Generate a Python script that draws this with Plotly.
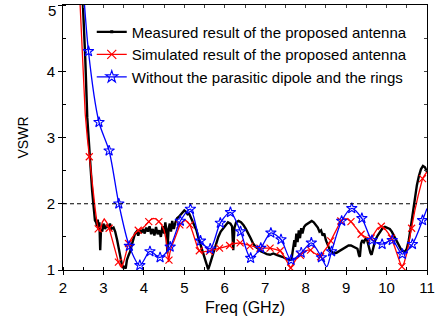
import plotly.graph_objects as go

# Measured result (black, dense)
meas_x = [2.45, 2.50, 2.55, 2.60, 2.67, 2.72, 2.75, 2.79, 2.82, 2.84, 2.86, 2.88, 2.90, 2.92, 2.94, 2.97,
          3.00, 3.04, 3.08, 3.12, 3.16, 3.20, 3.25, 3.29, 3.34, 3.38, 3.41, 3.45, 3.49, 3.52, 3.55, 3.58,
          3.62, 3.66, 3.70, 3.75, 3.78, 3.82, 3.86, 3.90, 3.94, 3.98, 4.02, 4.06, 4.10, 4.14, 4.18, 4.22,
          4.26, 4.30, 4.34, 4.38, 4.42, 4.46, 4.50, 4.53, 4.56, 4.58, 4.61, 4.64, 4.67, 4.70, 4.74, 4.78,
          4.82, 4.86, 4.90, 4.95, 5.00, 5.04, 5.08, 5.12, 5.16, 5.20, 5.25, 5.30, 5.35, 5.40, 5.45, 5.50,
          5.55, 5.59, 5.63, 5.68, 5.73, 5.78, 5.84, 5.90, 5.96, 6.02, 6.08, 6.14, 6.18, 6.21, 6.24, 6.28,
          6.34, 6.40, 6.46, 6.52, 6.58, 6.64, 6.70, 6.76, 6.83, 6.90, 6.97, 7.04, 7.12, 7.20, 7.28, 7.35,
          7.42, 7.49, 7.55, 7.60, 7.65, 7.69, 7.72, 7.74, 7.77, 7.80, 7.83, 7.86, 7.89, 7.92, 7.96, 8.00,
          8.05, 8.10, 8.15, 8.20, 8.25, 8.30, 8.34, 8.38, 8.42, 8.46, 8.50, 8.55, 8.60, 8.65, 8.70, 8.76,
          8.82, 8.88, 8.94, 9.00, 9.06, 9.12, 9.18, 9.24, 9.28, 9.32, 9.34, 9.37, 9.40, 9.44, 9.48, 9.52,
          9.56, 9.60, 9.63, 9.67, 9.72, 9.78, 9.84, 9.90, 9.96, 10.02, 10.08, 10.13, 10.18, 10.24, 10.30,
          10.36, 10.42, 10.46, 10.50, 10.55, 10.60, 10.65, 10.70, 10.75, 10.80, 10.85, 10.90, 10.95, 11.00]
meas_y = [5.6, 5.0, 4.2, 3.3, 2.56, 2.2, 2.0, 1.75, 1.72, 1.66, 1.76, 1.62, 1.72, 1.30, 1.62, 1.58,
          1.70, 1.62, 1.68, 1.64, 1.70, 1.62, 1.64, 1.58, 1.45, 1.32, 1.22, 1.10, 1.03, 1.06, 1.02, 1.15,
          1.22, 1.28, 1.38, 1.50, 1.55, 1.58, 1.52, 1.60, 1.56, 1.62, 1.55, 1.64, 1.58, 1.66, 1.54, 1.62,
          1.52, 1.65, 1.54, 1.60, 1.50, 1.66, 1.55, 1.72, 1.58, 1.25, 1.62, 1.70, 1.58, 1.74, 1.62, 1.72,
          1.78, 1.80, 1.83, 1.87, 1.90, 1.88, 1.84, 1.85, 1.80, 1.74, 1.68, 1.60, 1.48, 1.38, 1.28, 1.18,
          1.06, 1.01, 1.08, 1.18, 1.28, 1.38, 1.50, 1.58, 1.63, 1.68, 1.72, 1.70, 1.66, 1.30, 1.64, 1.72,
          1.74, 1.72, 1.68, 1.62, 1.56, 1.48, 1.40, 1.35, 1.32, 1.28, 1.26, 1.24, 1.23, 1.25, 1.23, 1.22,
          1.20, 1.18, 1.17, 1.15, 1.16, 1.30, 1.45, 1.35, 1.55, 1.42, 1.60, 1.48, 1.63, 1.55, 1.65, 1.68,
          1.70, 1.73, 1.74, 1.72, 1.68, 1.64, 1.58, 1.60, 1.52, 1.55, 1.45, 1.36, 1.30, 1.27, 1.25, 1.26,
          1.28, 1.30, 1.32, 1.35, 1.37, 1.37, 1.35, 1.33, 1.32, 1.22, 1.20, 1.40, 1.45, 1.42, 1.47, 1.45,
          1.35, 1.26, 1.23, 1.35, 1.45, 1.52, 1.58, 1.63, 1.65, 1.64, 1.62, 1.58, 1.52, 1.44, 1.37,
          1.31, 1.28, 1.28, 1.32, 1.45, 1.65, 1.88, 2.08, 2.28, 2.42, 2.52, 2.57, 2.55, 2.48]

# Simulated result (red)
sim_x = [2.40, 2.45, 2.50, 2.55, 2.60, 2.65, 2.70, 2.75, 2.80, 2.84, 2.87, 2.92, 2.97, 3.02, 3.08, 3.14,
         3.20, 3.26, 3.32, 3.37, 3.42, 3.45, 3.50, 3.56, 3.62, 3.70, 3.78, 3.86, 3.94, 4.02, 4.10, 4.17,
         4.23, 4.30, 4.37, 4.44, 4.50, 4.55, 4.58, 4.61, 4.64, 4.68, 4.75, 4.82, 4.89, 4.96, 5.03, 5.09,
         5.14, 5.20, 5.26, 5.32, 5.37, 5.45, 5.53, 5.62, 5.70, 5.80, 5.87, 6.00, 6.12, 6.25, 6.38, 6.50,
         6.62, 6.75, 6.87, 7.00, 7.12, 7.25, 7.37, 7.45, 7.52, 7.58, 7.63, 7.70, 7.78, 7.87, 7.95, 8.05,
         8.12, 8.20, 8.30, 8.37, 8.45, 8.55, 8.62, 8.70, 8.80, 8.87, 8.95, 9.03, 9.12, 9.20, 9.30, 9.37,
         9.45, 9.55, 9.62, 9.70, 9.78, 9.87, 9.95, 10.05, 10.12, 10.20, 10.28, 10.34, 10.38, 10.43, 10.50,
         10.56, 10.62, 10.70, 10.78, 10.84, 10.89, 10.95, 11.00]
sim_y = [5.3, 4.6, 3.9, 3.35, 3.0, 2.71, 2.45, 2.15, 1.9, 1.72, 1.62, 1.58, 1.72, 1.77, 1.72, 1.63,
         1.50, 1.35, 1.20, 1.12, 1.06, 1.04, 1.12, 1.28, 1.40, 1.48, 1.55, 1.60, 1.62, 1.66, 1.72, 1.76,
         1.78, 1.77, 1.73, 1.68, 1.60, 1.45, 1.30, 1.12, 1.25, 1.35, 1.45, 1.57, 1.68, 1.73, 1.75, 1.72,
         1.68, 1.58, 1.45, 1.35, 1.29, 1.27, 1.28, 1.28, 1.30, 1.32, 1.33, 1.35, 1.37, 1.40, 1.41, 1.39,
         1.36, 1.34, 1.33, 1.33, 1.33, 1.31, 1.29, 1.22, 1.14, 1.07, 1.03, 1.10, 1.18, 1.22, 1.28, 1.30,
         1.30, 1.26, 1.22, 1.20, 1.28, 1.36, 1.44, 1.54, 1.66, 1.74, 1.77, 1.77, 1.73, 1.67, 1.59, 1.54,
         1.51, 1.48, 1.48, 1.55, 1.63, 1.66, 1.63, 1.55, 1.48, 1.35, 1.20, 1.10, 1.05, 1.10, 1.25,
         1.45, 1.63, 1.90, 2.12, 2.28, 2.38, 2.44, 2.48]
sim_mx = [2.65, 2.87, 3.14, 3.37, 3.62, 3.86, 4.12, 4.37, 4.62, 4.89, 5.14, 5.37, 5.62, 5.87, 6.12, 6.38,
          6.62, 6.87, 7.12, 7.37, 7.63, 7.87, 8.12, 8.37, 8.62, 8.87, 9.12, 9.37, 9.62, 9.87, 10.12, 10.38,
          10.62, 10.89]
sim_my = [2.71, 1.62, 1.63, 1.12, 1.40, 1.60, 1.73, 1.73, 1.15, 1.68, 1.68, 1.29, 1.28, 1.33, 1.37, 1.41,
          1.36, 1.33, 1.33, 1.29, 1.03, 1.22, 1.30, 1.20, 1.44, 1.74, 1.73, 1.54, 1.48, 1.66, 1.48, 1.05,
          1.63, 2.38]

# Without parasitic dipole and rings (blue)
wo_x = [2.38, 2.63, 2.89, 3.14, 3.38, 3.64, 3.90, 4.15, 4.40, 4.65, 4.90, 5.15, 5.40, 5.64, 5.89, 6.14,
        6.39, 6.64, 6.89, 7.14, 7.39, 7.64, 7.89, 8.14, 8.39, 8.52, 8.64, 8.89, 9.14, 9.39, 9.64, 9.89,
        10.14, 10.39, 10.64, 10.89, 11.00]
wo_y = [6.4, 4.30, 3.23, 2.80, 2.00, 1.36, 1.07, 1.28, 1.19, 1.35, 1.74, 1.92, 1.44, 1.32, 1.71, 1.87,
        1.58, 1.18, 1.33, 1.56, 1.46, 1.15, 1.26, 1.41, 1.19, 1.05, 1.28, 1.74, 1.93, 1.78, 1.45, 1.39,
        1.45, 1.24, 1.39, 1.75, 1.93]
wo_mx = [2.63, 2.89, 3.14, 3.38, 3.64, 3.90, 4.15, 4.40, 4.65, 4.90, 5.15, 5.40, 5.64, 5.89, 6.14,
         6.39, 6.64, 6.89, 7.14, 7.39, 7.64, 7.89, 8.14, 8.39, 8.64, 8.89, 9.14, 9.39, 9.64, 9.89,
         10.14, 10.39, 10.64, 10.89]
wo_my = [4.30, 3.23, 2.80, 2.00, 1.36, 1.07, 1.28, 1.19, 1.35, 1.74, 1.92, 1.44, 1.32, 1.71, 1.87,
         1.58, 1.18, 1.33, 1.56, 1.46, 1.15, 1.26, 1.41, 1.19, 1.28, 1.74, 1.93, 1.78, 1.45, 1.39,
         1.45, 1.24, 1.39, 1.75]

names = ["Measured result of the proposed antenna",
         "Simulated result of the proposed antenna",
         "Without the parasitic dipole and the rings"]
ref_level = 2.0
x_ticks = [2, 3, 4, 5, 6, 7, 8, 9, 10, 11]
y_ticks = [1, 2, 3, 4, 5]

FONT = "Liberation Sans, Arial, sans-serif"
BLUE = "#0000ff"
RED = "#ff0000"

fig = go.Figure()
# lines
fig.add_trace(go.Scatter(x=meas_x, y=meas_y, mode="lines", line=dict(color="black", width=2.4),
                         showlegend=False))
fig.add_trace(go.Scatter(x=sim_x, y=sim_y, mode="lines", line=dict(color=RED, width=1.3),
                         showlegend=False))
fig.add_trace(go.Scatter(x=sim_mx, y=sim_my, mode="markers",
                         marker=dict(symbol="x-thin-open", size=7, color=RED, line=dict(color=RED, width=1.2)),
                         showlegend=False))
fig.add_trace(go.Scatter(x=wo_x, y=wo_y, mode="lines", line=dict(color=BLUE, width=1.3, shape="spline",
                         smoothing=0.8), showlegend=False))
fig.add_trace(go.Scatter(x=wo_mx, y=wo_my, mode="markers",
                         marker=dict(symbol="star-open", size=8, color=BLUE, line=dict(color=BLUE, width=1.1)),
                         showlegend=False))
# legend entries
fig.add_trace(go.Scatter(x=[None], y=[None], mode="lines+markers", name=names[0],
                         line=dict(color="black", width=2.4),
                         marker=dict(symbol="square", size=3, color="black")))
fig.add_trace(go.Scatter(x=[None], y=[None], mode="lines+markers", name=names[1],
                         line=dict(color=RED, width=1.3),
                         marker=dict(symbol="x-thin-open", size=9, color=RED, line=dict(color=RED, width=1.2))))
fig.add_trace(go.Scatter(x=[None], y=[None], mode="lines+markers", name=names[2],
                         line=dict(color=BLUE, width=1.3),
                         marker=dict(symbol="star-open", size=9, color=BLUE, line=dict(color=BLUE, width=1.1))))

fig.add_shape(type="line", xref="paper", x0=0, x1=1, yref="y", y0=ref_level, y1=ref_level,
              line=dict(color="black", width=1, dash="4px,3px"))

# top tick label (plotly drops the label sitting on the very top edge)
fig.add_annotation(x=0, xref="paper", y=1, yref="paper", text=str(y_ticks[-1]),
                   showarrow=False, xanchor="right", yanchor="top", xshift=-5, yshift=5,
                   font=dict(size=15, family=FONT, color="black"))

fig.update_layout(
    width=443, height=325,
    margin=dict(l=63, r=16, t=5, b=55),
    paper_bgcolor="white", plot_bgcolor="white",
    font=dict(family=FONT, size=15, color="black"),
    showlegend=True,
    legend=dict(x=0.079, y=0.96, xanchor="left", yanchor="top", bgcolor="rgba(0,0,0,0)",
                font=dict(size=15), tracegroupgap=0, itemwidth=30),
    xaxis=dict(range=[2, 11], tickmode="array", tickvals=x_ticks, showgrid=False, zeroline=False,
               showline=True, linecolor="black", linewidth=1,
               ticks="outside", ticklen=4, tickcolor="black",
               minor=dict(dtick=0.5, ticks="inside", ticklen=3, tickcolor="black"),
               title=dict(text="Freq (GHz)", standoff=6, font=dict(size=16)), tickfont=dict(size=15)),
    yaxis=dict(range=[1, 5], tickmode="array", tickvals=y_ticks, showgrid=False, zeroline=False,
               showline=True, linecolor="black", linewidth=1,
               ticks="outside", ticklen=4, tickcolor="black",
               minor=dict(dtick=0.5, ticks="inside", ticklen=3, tickcolor="black"),
               title=dict(text="VSWR", standoff=14, font=dict(size=14)), tickfont=dict(size=15)),
    xaxis2=dict(range=[2, 11], overlaying="x", side="top", dtick=0.5, ticks="inside", ticklen=3,
                showticklabels=False, showline=True, linecolor="black", showgrid=False, zeroline=False),
    yaxis2=dict(range=[1, 5], overlaying="y", side="right", dtick=0.5, ticks="inside", ticklen=3,
                showticklabels=False, showline=True, linecolor="black", showgrid=False, zeroline=False),
)
fig.add_trace(go.Scatter(x=[None], y=[None], xaxis="x2", yaxis="y2", showlegend=False, hoverinfo="skip"))

fig.write_html("out.html")
